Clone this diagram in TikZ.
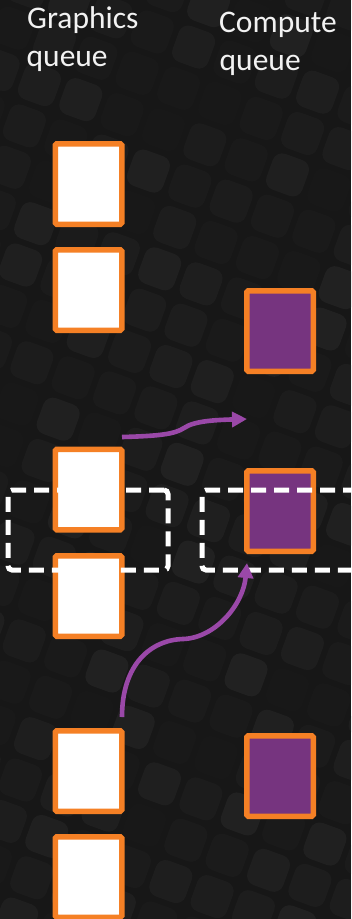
\documentclass[tikz,border=0pt]{standalone}
\usepackage{fontspec}
\setmainfont{Carlito}
\usetikzlibrary{arrows.meta}
\definecolor{bg}{HTML}{171717}
\definecolor{tile}{HTML}{2A2A2A}
\definecolor{qorange}{HTML}{F58025}
\definecolor{qpurple}{HTML}{76347F}
\definecolor{arrpurple}{HTML}{9A48A8}
\definecolor{txt}{HTML}{F2F2F2}
\tikzset{
 gbox/.style={draw=qorange, line width=5.5pt, fill=white, rounded corners=1.5pt,
   minimum width=66.5pt, minimum height=80.5pt, inner sep=0pt},
 cbox/.style={gbox, fill=qpurple},
 slot/.style={draw=white, line width=5pt, dash pattern=on 15pt off 8pt,
   rounded corners=4pt, minimum width=160pt, minimum height=80pt, inner sep=0pt},
 flow/.style={draw=arrpurple, line width=4.6pt, -{Triangle[length=15pt,width=15pt]}},
 title/.style={text=txt, font=\fontsize{31.5}{37}\selectfont, inner sep=0pt, anchor=base west}
}
\begin{document}
\begin{tikzpicture}[x=1pt,y=-1pt]
\useasboundingbox (0,0) rectangle (351,919);
\fill[bg] (0,0) rectangle (351,919);
\begin{scope}
\clip (0,0) rectangle (351,919);
\pgfmathsetseed{7}
\foreach \i in {-14,...,16} {
 \foreach \j in {-5,...,26} {
  \pgfmathsetmacro\op{0.05+0.5*rnd}
  \fill[tile, opacity=\op, rotate=-20, rounded corners=10pt] (\i*44+3, \j*44+3) rectangle ++(38,38);
 }
}
\end{scope}

% titles
\node[title] (g1) at (27,28.5) {Graphics};
\node[title] (g2) at (26.5,66) {queue};
\node[title] (c1) at (219,32.5) {Compute};
\node[title] (c2) at (219.5,70.5) {queue};

% graphics queue
\node[gbox] (b1) at (88.5,184) {};
\node[gbox] (b2) at (88.5,290) {};
\node[gbox] (b3) at (88.5,489.5) {};
\node[gbox] (b4) at (88.5,596) {};
\node[gbox] (b5) at (88.5,771) {};
\node[gbox] (b6) at (88.5,877) {};

% compute queue
\node[cbox] (p1) at (280,331) {};
\node[cbox] (p2) at (280,511) {};
\node[cbox] (p3) at (280,776) {};

% sync slots
\node[slot] (sg) at (88,530) {};
\node[slot] (sc) at (282,530) {};

% arrows
\coordinate (a1s) at (122,437);
\coordinate (a1e) at (247,419);
\coordinate (a2s) at (122,717);
\coordinate (a2e) at (247,563);
\draw[flow] (a1s) .. controls (160,436) and (175,434) .. (184,428)
  .. controls (194,421) and (215,420) .. (a1e);
\draw[flow] (a2s) .. controls (122,665) and (150,640) .. (183,639)
  .. controls (215,638) and (243,605) .. (a2e);
\end{tikzpicture}
\end{document}
